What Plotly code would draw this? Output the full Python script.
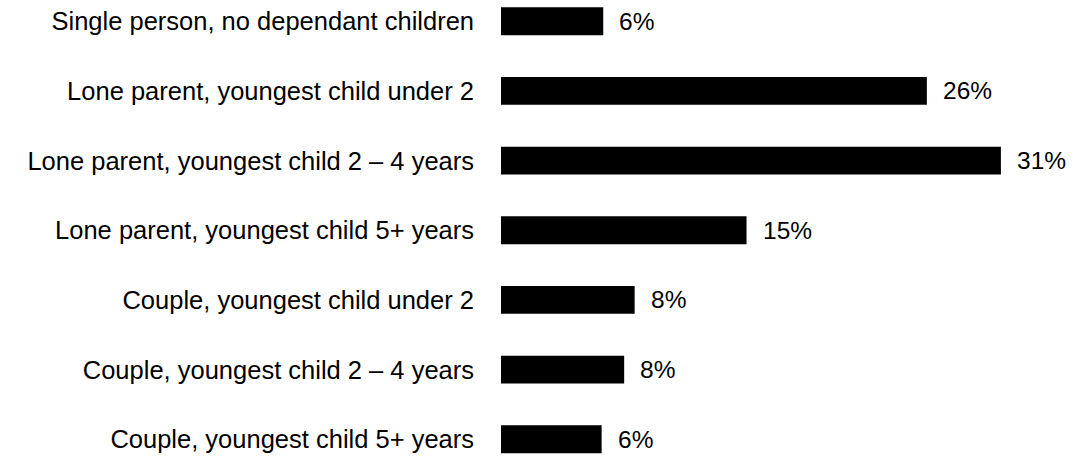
import plotly.graph_objects as go

# Household types and share (%) for each
categories = [
    "Single person, no dependant children",
    "Lone parent, youngest child under 2",
    "Lone parent, youngest child 2 \u2013 4 years",
    "Lone parent, youngest child 5+ years",
    "Couple, youngest child under 2",
    "Couple, youngest child 2 \u2013 4 years",
    "Couple, youngest child 5+ years",
]
shares = [6.35, 26.45, 31.05, 15.25, 8.3, 7.65, 6.25]

FONT = "Liberation Sans, Arial, sans-serif"
W, H = 1075, 457
LEFT = 501

fig = go.Figure(
    go.Bar(
        x=shares,
        y=categories,
        orientation="h",
        marker=dict(color="#000000", line=dict(width=0)),
        hoverinfo="skip",
    )
)

# Value labels sit just to the right of each bar
for cat, val in zip(categories, shares):
    fig.add_annotation(
        x=val,
        y=cat,
        xref="x",
        yref="y",
        text=f"{val:.0f}%",
        showarrow=False,
        xanchor="left",
        yanchor="middle",
        xshift=14,
        font=dict(family=FONT, size=24.5, color="#000000"),
    )

row_px = 69.68
fig.update_layout(
    width=W,
    height=H,
    margin=dict(l=LEFT, r=0, t=0, b=0),
    paper_bgcolor="white",
    plot_bgcolor="white",
    bargap=0.6,
    showlegend=False,
    xaxis=dict(
        range=[0, (W - LEFT) / 16.1],
        visible=False,
        fixedrange=True,
    ),
    yaxis=dict(
        type="category",
        categoryorder="array",
        categoryarray=categories,
        range=[6 + (H - 439.3) / row_px, -21.2 / row_px],
        showgrid=False,
        zeroline=False,
        showline=False,
        ticks="",
        ticklabelstandoff=26,
        tickfont=dict(family=FONT, size=25.5, color="#000000"),
        fixedrange=True,
    ),
)

fig.write_html("out.html")
